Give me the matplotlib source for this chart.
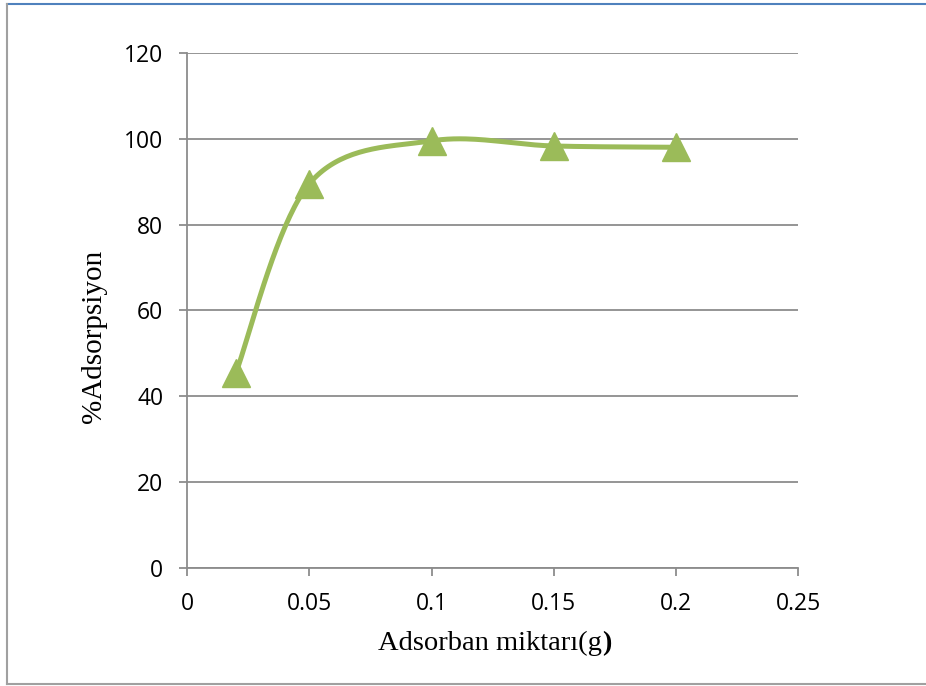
import matplotlib
matplotlib.use('Agg')
import matplotlib.pyplot as plt
from matplotlib.lines import Line2D
import numpy as np

# Data
amounts = [0.02, 0.05, 0.1, 0.15, 0.2]
adsorption = [45.5, 89.5, 99.5, 98.3, 98.0]
x_ticks = [0, 0.05, 0.1, 0.15, 0.2, 0.25]
x_tick_labels = ['0', '0.05', '0.1', '0.15', '0.2', '0.25']
y_ticks = [0, 20, 40, 60, 80, 100, 120]

green = '#9BBB59'
grid_gray = '#8C8C8C'


def excel_smooth(x, y, xr, yr, n=40):
    # Catmull-Rom style Bezier smoothing (like Excel's smoothed line),
    # done in normalised axis units
    px = np.array(x) / xr
    py = np.array(y) / yr
    xs, ys = [], []
    for i in range(len(px) - 1):
        p0 = np.array([px[max(i - 1, 0)], py[max(i - 1, 0)]])
        p1 = np.array([px[i], py[i]])
        p2 = np.array([px[i + 1], py[i + 1]])
        p3 = np.array([px[min(i + 2, len(px) - 1)], py[min(i + 2, len(px) - 1)]])
        c1 = p1 + (p2 - p0) / 6
        c2 = p2 - (p3 - p1) / 6
        t = np.linspace(0, 1, n)[:, None]
        b = ((1 - t) ** 3) * p1 + 3 * ((1 - t) ** 2) * t * c1 + 3 * (1 - t) * t ** 2 * c2 + t ** 3 * p2
        xs.extend(b[:, 0] * xr)
        ys.extend(b[:, 1] * yr)
    return np.array(xs), np.array(ys)


fig = plt.figure(figsize=(9.26, 6.86), dpi=100)
ax = fig.add_axes([0.202, 0.172, 0.66, 0.751])

sx, sy = excel_smooth(amounts, adsorption, 0.25, 120)
ax.plot(sx, sy, color=green, linewidth=3.6, solid_capstyle='round', zorder=3)
ax.plot(amounts, adsorption, linestyle='none', marker='^', markersize=20,
        color=green, zorder=4)

ax.set_xlim(0, 0.25)
ax.set_ylim(0, 120)
ax.set_xticks(x_ticks)
ax.set_xticklabels(x_tick_labels)
ax.set_yticks(y_ticks)

ax.grid(axis='y', color=grid_gray, linewidth=1.3)
ax.set_axisbelow(True)
for side in ['top', 'right']:
    ax.spines[side].set_visible(False)
for side in ['left', 'bottom']:
    ax.spines[side].set_color(grid_gray)
    ax.spines[side].set_linewidth(1.3)
ax.tick_params(axis='both', colors=grid_gray, length=6, width=1.3,
               labelcolor='black', labelsize=16.5, pad=11)
for lbl in ax.get_xticklabels() + ax.get_yticklabels():
    lbl.set_family('Open Sans')

# axis titles (Times-like serif, closing bracket is bold in the original)
fig.text(94 / 926, 1 - 336 / 686, '%Adsorpsiyon', family='Liberation Serif',
         fontsize=21, rotation=90, ha='center', va='center')
xl = fig.text(378 / 926, 1 - 650 / 686, 'Adsorban miktarı(g', family='Liberation Serif',
              fontsize=20.5, ha='left', va='baseline')
ax.annotate(')', xy=(1, 0), xycoords=xl, family='Liberation Serif',
            fontsize=20.5, fontweight='bold', va='bottom', ha='left')

# frame around the chart area
fig.add_artist(Line2D([7 / 926, 1], [1 - 4 / 686, 1 - 4 / 686],
                      transform=fig.transFigure, color='#4F81BD', linewidth=1.5))
fig.add_artist(Line2D([7 / 926, 7 / 926], [1 - 684 / 686, 1 - 4 / 686],
                      transform=fig.transFigure, color='#A0A0A0', linewidth=1.5))
fig.add_artist(Line2D([7 / 926, 1], [1 - 684 / 686, 1 - 684 / 686],
                      transform=fig.transFigure, color='#A0A0A0', linewidth=1.5))

plt.savefig('out.png', dpi=100)
plt.close()
